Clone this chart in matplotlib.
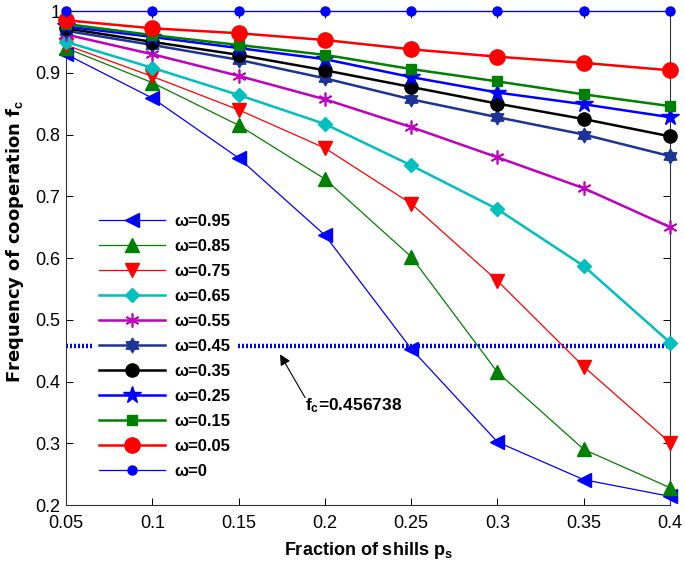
import numpy as np
import matplotlib
matplotlib.use("Agg")
import matplotlib.pyplot as plt
from matplotlib.path import Path

plt.rcParams['font.family'] = ['Liberation Sans', 'DejaVu Sans']
plt.rcParams['mathtext.fontset'] = 'custom'
plt.rcParams['mathtext.rm'] = 'Liberation Sans:bold'
plt.rcParams['mathtext.it'] = 'Liberation Sans:bold'
plt.rcParams['mathtext.bf'] = 'Liberation Sans:bold'

ps = [0.05, 0.10, 0.15, 0.20, 0.25, 0.30, 0.35, 0.40]
labels = ['ω=0.95', 'ω=0.85', 'ω=0.75', 'ω=0.65', 'ω=0.55',
          'ω=0.45', 'ω=0.35', 'ω=0.25', 'ω=0.15', 'ω=0.05', 'ω=0']
w095 = [0.930, 0.859, 0.762, 0.637, 0.453, 0.302, 0.241, 0.214]
w085 = [0.940, 0.884, 0.815, 0.728, 0.602, 0.415, 0.290, 0.228]
w075 = [0.945, 0.894, 0.840, 0.778, 0.688, 0.563, 0.424, 0.301]
w065 = [0.950, 0.908, 0.864, 0.817, 0.750, 0.679, 0.587, 0.463]
w055 = [0.962, 0.930, 0.895, 0.857, 0.812, 0.763, 0.713, 0.650]
w045 = [0.968, 0.945, 0.921, 0.891, 0.857, 0.828, 0.800, 0.765]
w035 = [0.972, 0.950, 0.929, 0.904, 0.877, 0.850, 0.825, 0.797]
w025 = [0.975, 0.958, 0.940, 0.922, 0.893, 0.868, 0.849, 0.828]
w015 = [0.979, 0.961, 0.945, 0.929, 0.906, 0.886, 0.865, 0.846]
w005 = [0.985, 0.972, 0.964, 0.953, 0.938, 0.926, 0.916, 0.904]
w000 = [1.0, 1.0, 1.0, 1.0, 1.0, 1.0, 1.0, 1.0]
threshold = 0.456738
xticks = [0.05, 0.1, 0.15, 0.2, 0.25, 0.3, 0.35, 0.4]
xticklabels = ['0.05', '0.1', '0.15', '0.2', '0.25', '0.3', '0.35', '0.4']
yticks = [0.2, 0.3, 0.4, 0.5, 0.6, 0.7, 0.8, 0.9, 1.0]
yticklabels = ['0.2', '0.3', '0.4', '0.5', '0.6', '0.7', '0.8', '0.9', '1']

# hexagram marker
ang1 = np.deg2rad(90 + np.array([0, 120, 240, 0]))
ang2 = np.deg2rad(270 + np.array([0, 120, 240, 0]))
verts = list(zip(np.cos(ang1), np.sin(ang1))) + list(zip(np.cos(ang2), np.sin(ang2)))
codes = [Path.MOVETO, Path.LINETO, Path.LINETO, Path.CLOSEPOLY] * 2
hexagram = Path(verts, codes)

series = [w095, w085, w075, w065, w055, w045, w035, w025, w015, w005, w000]
styles = [
    dict(color='#0000ff', marker='<', ms=9.5, lw=0.9),
    dict(color='#008000', marker='^', ms=9.5, lw=0.9),
    dict(color='#ff0000', marker='v', ms=9.5, lw=0.9),
    dict(color='#00bfbf', marker='D', ms=7.5, lw=1.8),
    dict(color='#bf00bf', marker=(6, 2, 0), ms=10, lw=1.8, mew=1.2),
    dict(color='#1c3494', marker=hexagram, ms=10.5, lw=1.8),
    dict(color='#000000', marker='o', ms=9.5, lw=1.8),
    dict(color='#0000ff', marker='*', ms=13, lw=1.8),
    dict(color='#008000', marker='s', ms=6.5, lw=1.8),
    dict(color='#ff0000', marker='o', ms=11, lw=1.8),
    dict(color='#0000ff', marker='o', ms=6.5, lw=0.9),
]

fig = plt.figure(figsize=(6.85, 5.62), dpi=100)
ax = fig.add_axes([0.0964, 0.1014, 0.8818, 0.879])

for y, lab, st in zip(series, labels, styles):
    mew = st.pop('mew', 1.0)
    ax.plot(ps, y, label=lab, markerfacecolor=st['color'], markeredgecolor=st['color'],
            markeredgewidth=mew, clip_on=False, zorder=3, **st)

ax.plot([ps[0], ps[-1]], [threshold, threshold], color='#0000ff', lw=3.2,
        linestyle=(0, (0.45, 0.45)), zorder=2)

ax.annotate('', xy=(0.174, 0.444), xytext=(0.1885, 0.374),
            arrowprops=dict(arrowstyle='-|>', color='black', lw=0.8, mutation_scale=16,
                            shrinkA=0, shrinkB=0))
ax.text(0.1885, 0.361, 'f$_\\mathrm{c}$=%g' % threshold, fontsize=12.5, fontweight='bold',
        va='center', ha='left')

ax.set_xlim(0.05, 0.4)
ax.set_ylim(0.2, 1.0)
ax.set_xticks(xticks)
ax.set_xticklabels(xticklabels)
ax.set_yticks(yticks)
ax.set_yticklabels(yticklabels)
ax.tick_params(direction='in', top=True, right=True, length=5, width=0.7, labelsize=13)
ax.tick_params(axis='x', pad=7)
ax.tick_params(axis='y', pad=4)
for s in ax.spines.values():
    s.set_linewidth(0.8)
    s.set_color('#333333')

ax.set_xlabel('Fraction of shills p$_\\mathrm{s}$', fontsize=13, fontweight='bold', labelpad=6)
ax.set_ylabel('Frequency of cooperation f$_\\mathrm{c}$', fontsize=13, fontweight='bold',
              family='DejaVu Sans')
ax.yaxis.set_label_coords(-0.066, 0.534)

leg = ax.legend(loc='lower left', bbox_to_anchor=(0.044, 0.04), frameon=True, fancybox=False,
                edgecolor='none', facecolor='white', framealpha=1.0,
                prop=dict(weight='bold', size=12), handlelength=3.95, labelspacing=0.6,
                handletextpad=0.55, borderaxespad=0.0)
leg.set_zorder(5)

fig.savefig('out.png', dpi=100)
